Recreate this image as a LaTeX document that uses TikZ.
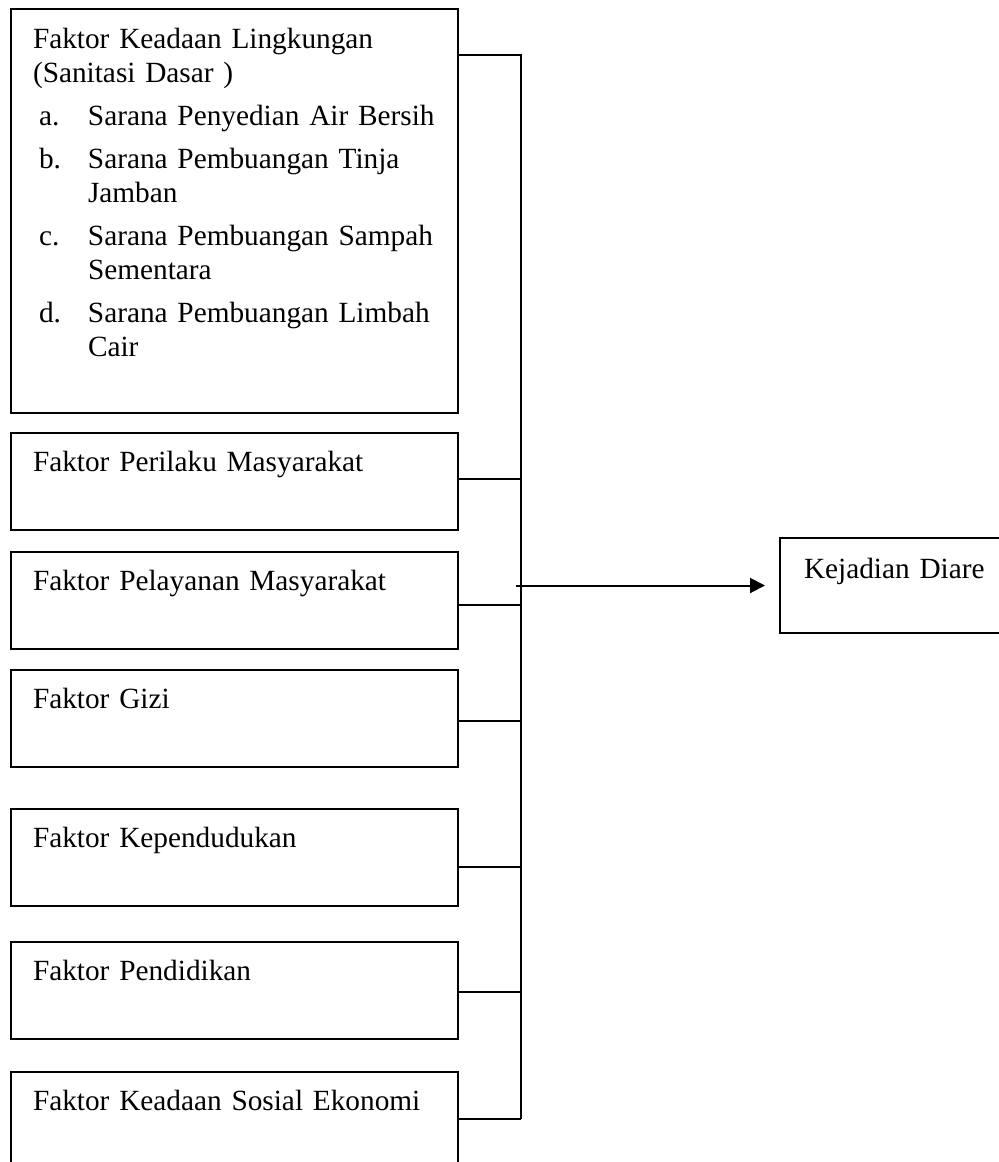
\documentclass[tikz,border=0pt]{standalone}
\usepackage{fontspec}
\setmainfont{Liberation Serif}
\usetikzlibrary{arrows.meta}
\newcommand{\itm}[2]{\makebox[27.5pt][l]{\hspace*{3pt}#1}#2}
\newcommand{\cont}[1]{\hspace*{27.5pt}#1}
\begin{document}
\begin{tikzpicture}[x=0.5pt,y=-0.5pt,line width=1pt,
    faktor/.style={draw,anchor=north west,align=left,text width=201.5pt,
      inner xsep=11pt,inner ysep=0pt,text height=19pt,text depth=29.5pt,
      font=\fontsize{14.65}{17}\selectfont},
    arr/.style={-{Triangle[length=7.5pt,width=7.5pt]}}]
  \useasboundingbox (0,0) rectangle (998,1162);
  \node[faktor,text height=19.5pt,text depth=182.5pt] (b1) at (10,8)
    {Faktor Keadaan Lingkungan\\(Sanitasi Dasar )\\[4.5pt]
     \itm{a.}{Sarana Penyedian Air Bersih}\\[4.5pt]
     \itm{b.}{Sarana Pembuangan Tinja}\\\cont{Jamban}\\[4.5pt]
     \itm{c.}{Sarana Pembuangan Sampah}\\\cont{Sementara}\\[4.5pt]
     \itm{d.}{Sarana Pembuangan Limbah}\\\cont{Cair}};
  \node[faktor] (b2) at (10,432) {Faktor Perilaku Masyarakat};
  \node[faktor] (b3) at (10,551) {Faktor Pelayanan Masyarakat};
  \node[faktor] (b4) at (10,669) {Faktor Gizi};
  \node[faktor] (b5) at (10,808) {Faktor Kependudukan};
  \node[faktor] (b6) at (10,941) {Faktor Pendidikan};
  \node[faktor] (b7) at (10,1071) {Faktor Keadaan Sosial Ekonomi};
  \node[faktor,text width=96pt,inner xsep=12pt,text height=20pt,text depth=27.5pt]
    (kd) at (779,537) {Kejadian Diare};
  \coordinate (bus) at (521,55);
  \draw (b1.east |- bus) -- (bus) -- ([yshift=1pt]bus |- b7.east);
  \foreach \b/\s in {b2/1.5,b3/-2,b4/-1,b5/-4.5,b6/-0.5,b7/1}
    \draw ([yshift=\s pt]\b.east) -- ([yshift=\s pt]\b.east -| bus);
  \path (kd.west -| bus) coordinate (hub);
  \draw[arr] ([xshift=-2.5pt]hub) -- ([xshift=-7pt]kd.west);
\end{tikzpicture}
\end{document}
